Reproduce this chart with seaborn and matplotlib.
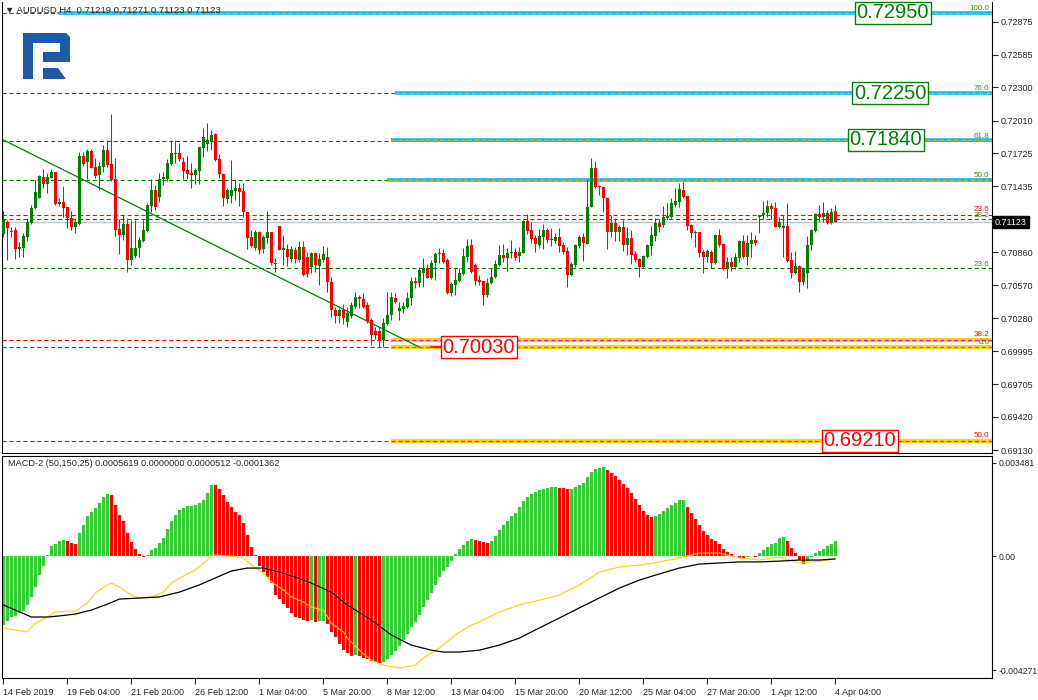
import numpy as np
import pandas as pd
import seaborn as sns
import matplotlib
matplotlib.use("Agg")
import matplotlib.pyplot as plt
from matplotlib.patches import Polygon
from matplotlib.transforms import IdentityTransform, blended_transform_factory

# ---- H4 candles, AUDUSD, 14 Feb - 4 Apr 2019 ----
opens = [0.71018, 0.71123, 0.71036, 0.71053, 0.70887, 0.70895, 0.70992, 0.71114, 0.71245, 0.71332,
         0.71516, 0.71455, 0.71507, 0.71560, 0.71280, 0.71297, 0.71254, 0.71158, 0.71079, 0.71105,
         0.71699, 0.71647, 0.71743, 0.71603, 0.71534, 0.71603, 0.71752, 0.71630, 0.71499, 0.71062,
         0.71010, 0.71105, 0.70791, 0.70826, 0.70895, 0.70956, 0.71044, 0.71262, 0.71402, 0.71341,
         0.71499, 0.71499, 0.71630, 0.71726, 0.71726, 0.71647, 0.71577, 0.71551, 0.71534, 0.71569,
         0.71769, 0.71804, 0.71822, 0.71892, 0.71673, 0.71542, 0.71324, 0.71350, 0.71394, 0.71420,
         0.71394, 0.71210, 0.70992, 0.70895, 0.71036, 0.70887, 0.70983, 0.71036, 0.70765, 0.71088,
         0.70878, 0.70887, 0.70800, 0.70878, 0.70791, 0.70904, 0.70817, 0.70729, 0.70852, 0.70738,
         0.70791, 0.70817, 0.70598, 0.70354, 0.70301, 0.70354, 0.70249, 0.70301, 0.70380, 0.70467,
         0.70449, 0.70397, 0.70266, 0.70170, 0.70170, 0.70091, 0.70231, 0.70310, 0.70458, 0.70345,
         0.70362, 0.70380, 0.70458, 0.70607, 0.70589, 0.70677, 0.70721, 0.70633, 0.70765, 0.70843,
         0.70852, 0.70791, 0.70502, 0.70572, 0.70607, 0.70668, 0.70817, 0.70922, 0.70747, 0.70616,
         0.70607, 0.70485, 0.70589, 0.70642, 0.70747, 0.70834, 0.70808, 0.70852, 0.70861, 0.70826,
         0.70852, 0.71132, 0.71053, 0.70983, 0.70922, 0.70992, 0.71053, 0.70974, 0.70956, 0.70992,
         0.70922, 0.70870, 0.70659, 0.70747, 0.70913, 0.70992, 0.70930, 0.71254, 0.71595, 0.71437,
         0.71429, 0.71332, 0.71036, 0.71114, 0.71036, 0.71079, 0.70922, 0.70983, 0.70843, 0.70800,
         0.70729, 0.70817, 0.70913, 0.71000, 0.71114, 0.71096, 0.71158, 0.71166, 0.71271, 0.71297,
         0.71402, 0.71350, 0.71096, 0.71027, 0.71036, 0.70861, 0.70817, 0.70861, 0.70765, 0.71010,
         0.70930, 0.70712, 0.70773, 0.70729, 0.70808, 0.70956, 0.70817, 0.70930, 0.70965, 0.71166,
         0.71184, 0.71201, 0.71262, 0.71245, 0.71079, 0.71070, 0.71088, 0.70791, 0.70677, 0.70738,
         0.70598, 0.70677, 0.70922, 0.71044, 0.71193, 0.71166, 0.71201, 0.71114, 0.71219]
highs = [0.71219, 0.71140, 0.71079, 0.71079, 0.70948, 0.71027, 0.71158, 0.71271, 0.71490, 0.71534,
         0.71586, 0.71551, 0.71586, 0.71560, 0.71332, 0.71437, 0.71254, 0.71219, 0.71158, 0.71734,
         0.71734, 0.71760, 0.71760, 0.71682, 0.71647, 0.71796, 0.71839, 0.72067, 0.71682, 0.71149,
         0.71184, 0.71158, 0.71140, 0.71140, 0.70992, 0.71140, 0.71289, 0.71499, 0.71446, 0.71551,
         0.71560, 0.71673, 0.71839, 0.71839, 0.71813, 0.71691, 0.71699, 0.71638, 0.71595, 0.71778,
         0.71944, 0.71988, 0.71927, 0.71900, 0.71717, 0.71551, 0.71420, 0.71665, 0.71490, 0.71464,
         0.71464, 0.71210, 0.71053, 0.71053, 0.71044, 0.71010, 0.71219, 0.71036, 0.70808, 0.71088,
         0.71010, 0.70930, 0.70913, 0.70904, 0.70956, 0.70956, 0.70861, 0.70861, 0.70861, 0.70852,
         0.70913, 0.70904, 0.70642, 0.70380, 0.70371, 0.70406, 0.70380, 0.70424, 0.70511, 0.70485,
         0.70502, 0.70424, 0.70284, 0.70205, 0.70205, 0.70284, 0.70511, 0.70511, 0.70502, 0.70424,
         0.70424, 0.70511, 0.70642, 0.70642, 0.70729, 0.70808, 0.70756, 0.70791, 0.70861, 0.70895,
         0.70887, 0.70808, 0.70598, 0.70721, 0.70721, 0.70895, 0.70974, 0.70974, 0.70765, 0.70659,
         0.70607, 0.70633, 0.70721, 0.70791, 0.70922, 0.70930, 0.70895, 0.70965, 0.70895, 0.70904,
         0.71140, 0.71193, 0.71123, 0.71010, 0.71062, 0.71105, 0.71070, 0.71070, 0.71027, 0.71070,
         0.70948, 0.70904, 0.70773, 0.70930, 0.71010, 0.71027, 0.71499, 0.71682, 0.71656, 0.71446,
         0.71437, 0.71341, 0.71184, 0.71158, 0.71096, 0.71140, 0.71079, 0.71053, 0.70870, 0.70808,
         0.70834, 0.70930, 0.71088, 0.71158, 0.71149, 0.71262, 0.71289, 0.71332, 0.71420, 0.71464,
         0.71472, 0.71350, 0.71105, 0.71053, 0.71036, 0.70878, 0.70887, 0.70878, 0.71018, 0.71062,
         0.70939, 0.70817, 0.70817, 0.70852, 0.70965, 0.71010, 0.71010, 0.71036, 0.71010, 0.71184,
         0.71306, 0.71315, 0.71289, 0.71297, 0.71166, 0.71184, 0.71289, 0.70861, 0.70870, 0.70747,
         0.70729, 0.71000, 0.71062, 0.71201, 0.71271, 0.71297, 0.71228, 0.71245, 0.71271]
lows = [0.70992, 0.70791, 0.70992, 0.70800, 0.70817, 0.70817, 0.70956, 0.71105, 0.71236, 0.71332,
        0.71420, 0.71376, 0.71507, 0.71271, 0.71262, 0.71166, 0.71070, 0.71053, 0.71027, 0.71096,
        0.71612, 0.71499, 0.71595, 0.71507, 0.71402, 0.71560, 0.71603, 0.71481, 0.71000, 0.70843,
        0.70965, 0.70686, 0.70747, 0.70808, 0.70817, 0.70948, 0.71036, 0.71210, 0.71228, 0.71297,
        0.71446, 0.71481, 0.71621, 0.71638, 0.71656, 0.71499, 0.71499, 0.71420, 0.71455, 0.71455,
        0.71691, 0.71743, 0.71752, 0.71656, 0.71507, 0.71262, 0.71289, 0.71289, 0.71315, 0.71262,
        0.71166, 0.70887, 0.70904, 0.70878, 0.70843, 0.70852, 0.70939, 0.70747, 0.70686, 0.70878,
        0.70747, 0.70738, 0.70773, 0.70765, 0.70773, 0.70651, 0.70642, 0.70677, 0.70686, 0.70572,
        0.70773, 0.70511, 0.70292, 0.70240, 0.70240, 0.70231, 0.70205, 0.70284, 0.70371, 0.70371,
        0.70371, 0.70240, 0.70048, 0.70100, 0.70030, 0.70030, 0.70223, 0.70266, 0.70415, 0.70266,
        0.70327, 0.70371, 0.70397, 0.70546, 0.70554, 0.70554, 0.70633, 0.70624, 0.70616, 0.70765,
        0.70765, 0.70493, 0.70476, 0.70485, 0.70598, 0.70659, 0.70773, 0.70677, 0.70572, 0.70572,
        0.70397, 0.70467, 0.70581, 0.70633, 0.70738, 0.70773, 0.70694, 0.70808, 0.70791, 0.70773,
        0.70852, 0.71018, 0.70939, 0.70861, 0.70895, 0.70887, 0.70939, 0.70913, 0.70939, 0.70861,
        0.70843, 0.70554, 0.70651, 0.70729, 0.70895, 0.70782, 0.70930, 0.71254, 0.71420, 0.71359,
        0.71210, 0.70887, 0.70992, 0.70956, 0.70956, 0.70870, 0.70834, 0.70756, 0.70773, 0.70642,
        0.70721, 0.70808, 0.70834, 0.70956, 0.71036, 0.71079, 0.71140, 0.71158, 0.71254, 0.71254,
        0.71332, 0.71053, 0.70983, 0.70904, 0.70817, 0.70677, 0.70773, 0.70721, 0.70756, 0.70904,
        0.70703, 0.70633, 0.70694, 0.70712, 0.70773, 0.70808, 0.70747, 0.70817, 0.70922, 0.71027,
        0.71149, 0.71166, 0.71149, 0.71079, 0.71070, 0.70817, 0.70773, 0.70633, 0.70668, 0.70511,
        0.70572, 0.70546, 0.70878, 0.71036, 0.71123, 0.71123, 0.71105, 0.71105, 0.71123]
closes = [0.71140, 0.71070, 0.71044, 0.70887, 0.70904, 0.71000, 0.71123, 0.71245, 0.71385, 0.71525,
          0.71455, 0.71516, 0.71560, 0.71280, 0.71297, 0.71245, 0.71158, 0.71079, 0.71123, 0.71699,
          0.71630, 0.71743, 0.71595, 0.71525, 0.71612, 0.71752, 0.71621, 0.71490, 0.71053, 0.71010,
          0.71105, 0.70791, 0.70895, 0.70895, 0.70965, 0.71053, 0.71271, 0.71402, 0.71254, 0.71499,
          0.71516, 0.71638, 0.71726, 0.71717, 0.71673, 0.71569, 0.71542, 0.71534, 0.71577, 0.71778,
          0.71866, 0.71839, 0.71882, 0.71665, 0.71542, 0.71332, 0.71402, 0.71402, 0.71420, 0.71385,
          0.71210, 0.70983, 0.70913, 0.71036, 0.70878, 0.70992, 0.71036, 0.70765, 0.70756, 0.70878,
          0.70895, 0.70817, 0.70887, 0.70800, 0.70904, 0.70659, 0.70668, 0.70852, 0.70747, 0.70800,
          0.70843, 0.70598, 0.70354, 0.70301, 0.70354, 0.70284, 0.70327, 0.70397, 0.70467, 0.70449,
          0.70380, 0.70258, 0.70135, 0.70135, 0.70091, 0.70240, 0.70310, 0.70467, 0.70424, 0.70371,
          0.70389, 0.70458, 0.70607, 0.70589, 0.70703, 0.70721, 0.70633, 0.70765, 0.70843, 0.70852,
          0.70773, 0.70502, 0.70581, 0.70616, 0.70677, 0.70826, 0.70913, 0.70686, 0.70607, 0.70598,
          0.70485, 0.70589, 0.70642, 0.70756, 0.70834, 0.70808, 0.70852, 0.70861, 0.70808, 0.70861,
          0.71132, 0.71044, 0.70974, 0.70930, 0.71000, 0.71053, 0.70965, 0.70965, 0.70992, 0.70913,
          0.70861, 0.70659, 0.70756, 0.70922, 0.70992, 0.70939, 0.71254, 0.71595, 0.71429, 0.71429,
          0.71332, 0.71036, 0.71114, 0.71036, 0.71079, 0.70922, 0.70983, 0.70834, 0.70791, 0.70729,
          0.70826, 0.70922, 0.71010, 0.71114, 0.71079, 0.71166, 0.71175, 0.71289, 0.71306, 0.71411,
          0.71341, 0.71088, 0.71027, 0.71036, 0.70852, 0.70817, 0.70870, 0.70765, 0.71010, 0.70922,
          0.70712, 0.70773, 0.70729, 0.70817, 0.70956, 0.70817, 0.70939, 0.70965, 0.70939, 0.71184,
          0.71201, 0.71262, 0.71236, 0.71079, 0.71123, 0.71088, 0.70782, 0.70677, 0.70738, 0.70598,
          0.70712, 0.70922, 0.71053, 0.71193, 0.71166, 0.71201, 0.71114, 0.71210, 0.71123]

# ---- MACD-2 (50,150,25), values in units of 0.001 ----
macd_hist = [-2.58, -2.43, -2.28, -2.24, -2.13, -2.06, -1.83, -1.53, -1.16, -0.71,
             -0.37, 0.02, 0.37, 0.45, 0.56, 0.60, 0.56, 0.49, 0.45, 0.86,
             1.16, 1.50, 1.65, 1.80, 1.98, 2.21, 2.32, 2.28, 1.91, 1.53,
             1.31, 0.86, 0.52, 0.26, 0.07, -0.05, 0.03, 0.22, 0.30, 0.49,
             0.67, 1.01, 1.31, 1.53, 1.72, 1.80, 1.87, 1.88, 1.89, 1.98,
             2.09, 2.36, 2.66, 2.65, 2.51, 2.28, 2.02, 1.83, 1.65, 1.53,
             1.23, 0.79, 0.34, 0.04, -0.37, -0.60, -0.79, -1.01, -1.46, -1.61,
             -1.80, -1.94, -2.13, -2.28, -2.32, -2.39, -2.43, -2.40, -2.45, -2.44,
             -2.42, -2.54, -2.84, -3.03, -3.29, -3.52, -3.63, -3.72, -3.70, -3.74,
             -3.80, -3.86, -3.93, -3.98, -4.01, -3.96, -3.85, -3.70, -3.55, -3.36,
             -3.14, -2.90, -2.66, -2.45, -2.20, -1.92, -1.66, -1.38, -1.10, -0.80,
             -0.55, -0.40, -0.20, 0.08, 0.25, 0.40, 0.55, 0.62, 0.60, 0.57,
             0.52, 0.50, 0.58, 0.75, 0.97, 1.15, 1.32, 1.48, 1.62, 1.85,
             2.05, 2.20, 2.32, 2.40, 2.47, 2.52, 2.55, 2.57, 2.58, 2.55,
             2.53, 2.50, 2.52, 2.58, 2.66, 2.72, 2.95, 3.15, 3.24, 3.30,
             3.33, 3.22, 3.12, 3.00, 2.86, 2.70, 2.55, 2.36, 2.15, 1.90,
             1.70, 1.52, 1.45, 1.48, 1.58, 1.70, 1.80, 1.90, 1.98, 2.08,
             2.10, 1.85, 1.62, 1.40, 1.15, 0.95, 0.80, 0.65, 0.58, 0.45,
             0.28, 0.15, 0.06, 0.00, -0.06, -0.09, -0.05, 0.00, -0.03, 0.10,
             0.22, 0.35, 0.45, 0.50, 0.68, 0.72, 0.55, 0.30, 0.12, -0.15,
             -0.30, -0.18, -0.05, 0.10, 0.18, 0.28, 0.36, 0.45, 0.56]
yellow_bar = [0, 6, 8, 11, 13, 16, 18, 21, 23, 26, 27, 29, 32, 34, 37, 40, 42, 45, 48, 51,
              52, 57, 60, 62, 65, 67, 70, 72, 75, 77, 80, 82, 85, 86, 89, 92, 95, 99, 103, 105,
              109, 113, 117, 119, 124, 129, 134, 139, 144, 149, 154, 159, 164, 169, 174, 179,
              184, 189, 194, 199, 204, 208]
yellow_val = [-2.69, -2.84, -2.51, -2.28, -2.09, -2.06, -2.06, -1.76, -1.38, -1.08, -1.01, -1.16,
              -1.46, -1.57, -1.53, -1.35, -1.01, -0.75, -0.52, -0.15, 0.04, 0.00, -0.07, -0.34,
              -0.64, -0.97, -1.27, -1.53, -1.72, -1.91, -2.02, -2.51, -2.84, -3.07, -3.52, -3.89,
              -4.08, -4.19, -4.08, -3.81, -3.44, -2.95, -2.58, -2.47, -2.09, -1.83, -1.65, -1.46,
              -1.08, -0.60, -0.41, -0.34, -0.22, -0.07, 0.11, 0.11, -0.07, -0.15, -0.04, -0.26,
              -0.19, -0.11]
black_bar = [0, 3, 7, 11, 14, 18, 22, 26, 29, 34, 39, 44, 49, 53, 57, 61, 65, 69, 73, 77,
             82, 86, 92, 97, 102, 107, 110, 114, 119, 124, 129, 134, 139, 144, 149, 154, 159,
             164, 169, 174, 179, 184, 189, 194, 199, 204, 208]
black_val = [-1.83, -2.02, -2.28, -2.28, -2.24, -2.17, -2.02, -1.80, -1.61, -1.57, -1.53, -1.35,
             -1.08, -0.82, -0.56, -0.45, -0.45, -0.60, -0.79, -1.01, -1.35, -1.83, -2.39, -2.95,
             -3.33, -3.52, -3.59, -3.59, -3.52, -3.33, -3.07, -2.69, -2.32, -1.94, -1.57, -1.20,
             -0.90, -0.67, -0.45, -0.30, -0.26, -0.22, -0.22, -0.19, -0.15, -0.15, -0.11]

# ---- axis labels ----
time_bars = [0, 16, 32, 48, 64, 80, 96, 112, 128, 144, 160, 176, 192, 208]
time_labels = ["14 Feb 2019", "19 Feb 04:00", "21 Feb 20:00", "26 Feb 12:00", "1 Mar 04:00",
               "5 Mar 20:00", "8 Mar 12:00", "13 Mar 04:00", "15 Mar 20:00", "20 Mar 12:00",
               "25 Mar 04:00", "27 Mar 20:00", "1 Apr 12:00", "4 Apr 04:00"]
price_ticks = [0.72875, 0.72585, 0.72300, 0.72010, 0.71725, 0.71435, 0.70860, 0.70570,
               0.70280, 0.69995, 0.69705, 0.69420, 0.69130]
macd_ticks = [3.4819, 0.0, -4.2710]
macd_tick_labels = ["0.003481", "0.00", "-0.004271"]

# ---- drawn objects ----
fib_up_lo, fib_up_hi = 0.70030, 0.72950          # green fibo grid
fib_up_levels = [0.0, 23.6, 38.2, 50.0, 61.8, 76.0, 100.0]
fib_dn_top, fib_dn_bot = 0.72950, 0.65470        # red fibo grid
fib_dn_levels = [23.6, 38.2, 50.0]
blue_levels = [0.72950, 0.72250, 0.71840, 0.71490]
blue_start = [14, 98, 97, 96]
yellow_levels = [0.70093, 0.70030, 0.69210]
yellow_start = 97
trend_bar = [0, 104]
trend_price = [0.71840, 0.70030]
tag_text = ["0.72950", "0.72250", "0.71840", "0.70030", "0.69210"]
tag_price = [0.72950, 0.72250, 0.71840, 0.70030, 0.69210]
tag_bar = [222.4, 221.7, 220.7, 118.9, 214.2]
tag_color = ["#008000", "#008000", "#008000", "#FF0000", "#FF0000"]
last_price = 0.71123

GREEN = "#008000"
RED = "#FF0000"

sns.set_style("white")
plt.rcParams["font.family"] = ["Liberation Sans", "DejaVu Sans"]
plt.rcParams["lines.scale_dashes"] = False

W, H = 1038, 700
fig = plt.figure(figsize=(W / 100, H / 100), dpi=100)
ax = fig.add_axes([2 / W, 1 - 453 / H, 990 / W, 451 / H])
ax2 = fig.add_axes([2 / W, 1 - 678 / H, 990 / W, 222 / H])
x_lo, x_hi = -0.33, 247.2
dash = (0, (3.0, 2.0))

# candles
o, h, l, c = map(np.array, (opens, highs, lows, closes))
bars = np.arange(len(c))
col = np.where(c >= o, GREEN, RED)
ax.vlines(bars, l, h, colors=col, lw=0.75, zorder=5)
ax.bar(bars, np.maximum(np.abs(c - o), 0.00002), bottom=np.minimum(o, c), width=0.75,
       color=col, linewidth=0, zorder=6)

# fibo grids (dashed) and the thick horizontal lines drawn over them
for lv in fib_up_levels:
    p = fib_up_lo + lv / 100 * (fib_up_hi - fib_up_lo)
    ax.hlines(p, x_lo, x_hi, colors=GREEN, lw=0.8, linestyles=dash, zorder=2)
for lv in fib_dn_levels:
    p = fib_dn_top - lv / 100 * (fib_dn_top - fib_dn_bot)
    ax.hlines(p, x_lo, x_hi, colors=RED, lw=0.8, linestyles=dash, zorder=2)
for p, s in zip(blue_levels, blue_start):
    ax.hlines(p, s, x_hi, colors="#00BFFF", lw=2.6, zorder=3)
    ax.hlines(p, s, x_hi, colors="#FFA500", lw=0.9, linestyles=dash, zorder=4)
for p in yellow_levels:
    ax.hlines(p, yellow_start, x_hi, colors="#FFD700", lw=3.0, zorder=3)
    ax.hlines(p, yellow_start, x_hi, colors="#1E90FF" if p == fib_up_lo else "#FF00FF",
              lw=0.9, linestyles=dash, zorder=4)
ax.hlines(last_price, x_lo, x_hi, colors="#C0C0C0", lw=1.0, zorder=1)
ax.plot(trend_bar, trend_price, color=GREEN, lw=0.9, zorder=4)
ax.plot([107, 110], [fib_up_lo, fib_up_lo], color=RED, lw=1.2, zorder=4)

# level captions
for lv in fib_up_levels:
    p = fib_up_lo + lv / 100 * (fib_up_hi - fib_up_lo)
    ax.annotate(f"{lv:.1f}", (246.6, p), xytext=(0, 0.5), textcoords="offset points",
                ha="right", va="bottom", fontsize=5.8, color="#3C8C1C", zorder=8)
for lv in fib_dn_levels:
    p = fib_dn_top - lv / 100 * (fib_dn_top - fib_dn_bot)
    ax.annotate(f"{lv:.1f}", (246.6, p), xytext=(0, 1.5), textcoords="offset points",
                ha="right", va="bottom", fontsize=5.8, color=RED, zorder=8)

for t, p, b, cc in zip(tag_text, tag_price, tag_bar, tag_color):
    ax.text(b, p, t, fontsize=14.5, color=cc, ha="center", va="center", zorder=9,
            bbox=dict(boxstyle="square,pad=0.08", fc="white", ec=cc, lw=1.0))

ax.set_xlim(x_lo, x_hi)
ax.set_ylim(0.69104, 0.73046)
ax.yaxis.tick_right()
ax.set_yticks(price_ticks)
ax.set_yticklabels([f"{v:.5f}" for v in price_ticks])
ax.set_xticks([])
ax.tick_params(axis="y", direction="out", length=4, width=0.8, pad=2, labelsize=6.5,
               right=True, left=False)
for s in ["left", "right", "bottom"]:
    ax.spines[s].set_color("black")
    ax.spines[s].set_linewidth(0.8)
ax.spines["top"].set_visible(False)

# current price tag
tr = blended_transform_factory(ax.transAxes, ax.transData)
ax.text(1.003, last_price, f"{last_price:.5f}", transform=tr, fontsize=6.5, color="white",
        ha="left", va="center", zorder=10, clip_on=False,
        bbox=dict(boxstyle="square,pad=0.2", fc="black", ec="black"))

# ---- MACD panel ----
hist = np.array(macd_hist)
rising = np.r_[True, hist[1:] >= hist[:-1]]
df = pd.DataFrame({"bar": bars, "hist": hist, "dir": np.where(rising, "up", "down")})
sns.barplot(data=df, x="bar", y="hist", hue="dir", palette={"up": "#32CD32", "down": "#FF0000"},
            native_scale=True, dodge=False, width=0.75, saturation=1, legend=False,
            errorbar=None, linewidth=0, ax=ax2)
sns.lineplot(x=yellow_bar, y=yellow_val, color="#FFD200", lw=0.8, ax=ax2)
sns.lineplot(x=black_bar, y=black_val, color="black", lw=0.9, ax=ax2)

ax2.set_xlim(x_lo, x_hi)
ax2.set_ylim(-4.56, 3.74)
ax2.set_xlabel("")
ax2.set_ylabel("")
ax2.yaxis.tick_right()
ax2.set_yticks(macd_ticks)
ax2.set_yticklabels(macd_tick_labels)
ax2.set_xticks(time_bars)
ax2.set_xticklabels(time_labels, ha="left")
ax2.tick_params(axis="x", direction="out", length=4, width=0.8, pad=3, labelsize=6.5,
                bottom=True)
ax2.tick_params(axis="y", direction="out", length=3, width=0.8, pad=1.5, labelsize=6.2,
                right=True, left=False)
for s in ax2.spines.values():
    s.set_color("black")
    s.set_linewidth(0.8)

# header texts
fig.text(5 / W, 1 - 10 / H, "\u25bc AUDUSD,H4  0.71219 0.71271 0.71123 0.71123",
         fontsize=6.8, va="center", ha="left", family=["Liberation Sans", "DejaVu Sans"])
fig.text(8 / W, 1 - 464 / H, "MACD-2 (50,150,25) 0.0005619 0.0000000 0.0000512 -0.0001362",
         fontsize=6.6, va="center", ha="left")

# logo
def px(pts):
    return [(x, H - y) for x, y in pts]

logo_parts = [
    [(23, 33), (66, 33), (70, 37), (70, 62), (43, 62), (43, 52), (60, 52), (60, 43), (33, 43), (33, 79), (23, 79)],
    [(43, 68), (58, 68), (66, 79), (43, 79)],
]
for part in logo_parts:
    fig.add_artist(Polygon(px(part), closed=True, fc="#1F5AA8", ec="none",
                           transform=IdentityTransform()))

fig.savefig("out.png", dpi=100)
